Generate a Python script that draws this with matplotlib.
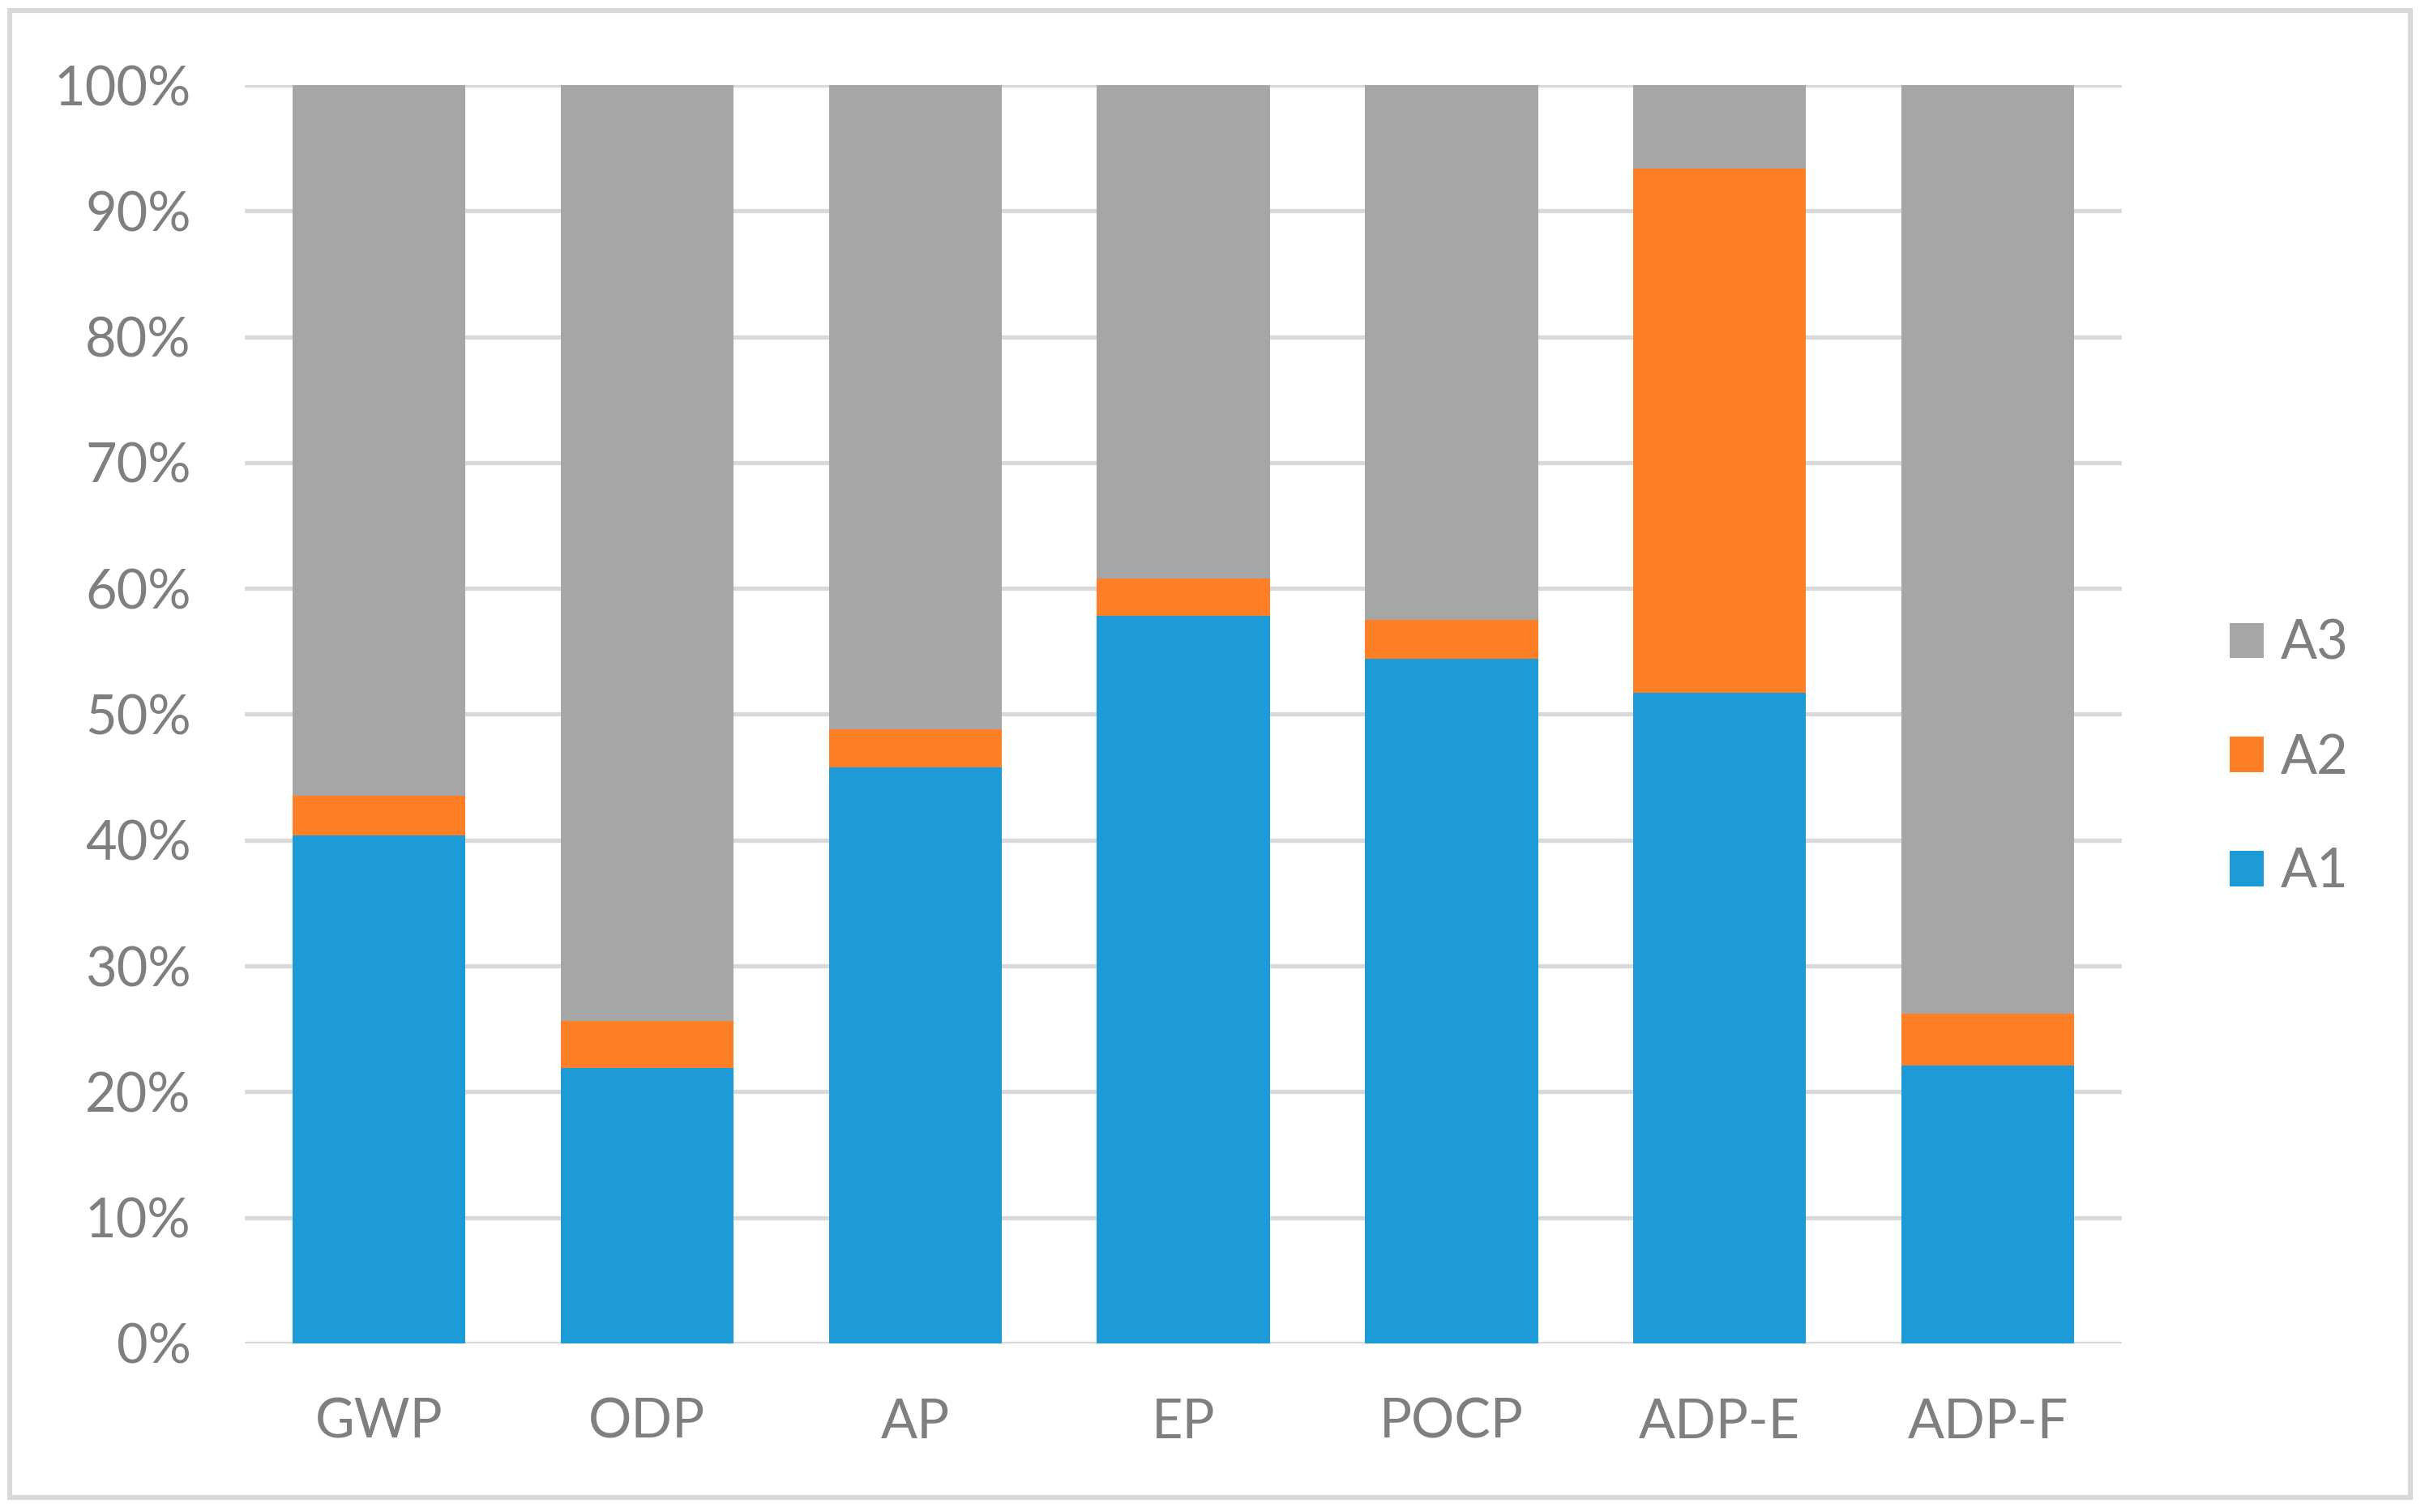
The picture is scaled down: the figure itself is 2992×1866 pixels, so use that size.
"""Stacked 100% bar chart: impact shares of stages A1-A3."""
import matplotlib
matplotlib.use("Agg")
import matplotlib.pyplot as plt  # noqa: E402
from matplotlib.patches import Rectangle  # noqa: E402
from matplotlib.ticker import PercentFormatter  # noqa: E402

categories = ["GWP", "ODP", "AP", "EP", "POCP", "ADP-E", "ADP-F"]
a1 = [40.4, 21.9, 45.8, 57.8, 54.4, 51.7, 22.1]
a2 = [3.1, 3.7, 3.0, 3.0, 3.1, 41.7, 4.1]
a3 = [100 - x - y for x, y in zip(a1, a2)]

C_A1 = "#1D9BD7"
C_A2 = "#FF7F27"
C_A3 = "#A6A6A6"
TXT = "#7F7F7F"
GRID = "#D9D9D9"

plt.rcParams["font.family"] = ["Lato", "DejaVu Sans"]

fig = plt.figure(figsize=(14.96, 9.33), dpi=200)
ax = fig.add_axes([0.101, 0.1115, 0.774, 0.8322])

x = range(len(categories))
w = 0.645
b1 = ax.bar(x, a1, w, color=C_A1, label="A1", zorder=3)
b2 = ax.bar(x, a2, w, bottom=a1, color=C_A2, label="A2", zorder=3)
b3 = ax.bar(x, a3, w, bottom=[p + q for p, q in zip(a1, a2)], color=C_A3,
            label="A3", zorder=3)

ax.set_xlim(-0.5, len(categories) - 0.5)
ax.set_ylim(0, 100)
ax.set_yticks(range(0, 101, 10))
ax.yaxis.set_major_formatter(PercentFormatter(decimals=0))
ax.set_xticks(list(x))
ax.set_xticklabels(categories)
ax.grid(axis="y", color=GRID, lw=1.9, zorder=0)
ax.set_axisbelow(True)
for s in ax.spines.values():
    s.set_visible(False)
ax.tick_params(axis="both", length=0, labelsize=24, colors=TXT)
ax.tick_params(axis="y", pad=24)
ax.tick_params(axis="x", pad=24)

ax.legend(handles=[b3, b2, b1], loc="center left",
          bbox_to_anchor=(0.9196, 0.4986), bbox_transform=fig.transFigure,
          frameon=False, fontsize=24, labelcolor=TXT,
          handlelength=0.63, handleheight=0.63, handletextpad=0.3,
          labelspacing=1.18, borderpad=0, borderaxespad=0)

# outer chart border
fig.patches.append(Rectangle((0.004, 0.0095), 0.99, 0.9835,
                             transform=fig.transFigure, fill=False,
                             edgecolor=GRID, lw=2.2))

fig.savefig("out.png", dpi=200, facecolor="white")
plt.close()
